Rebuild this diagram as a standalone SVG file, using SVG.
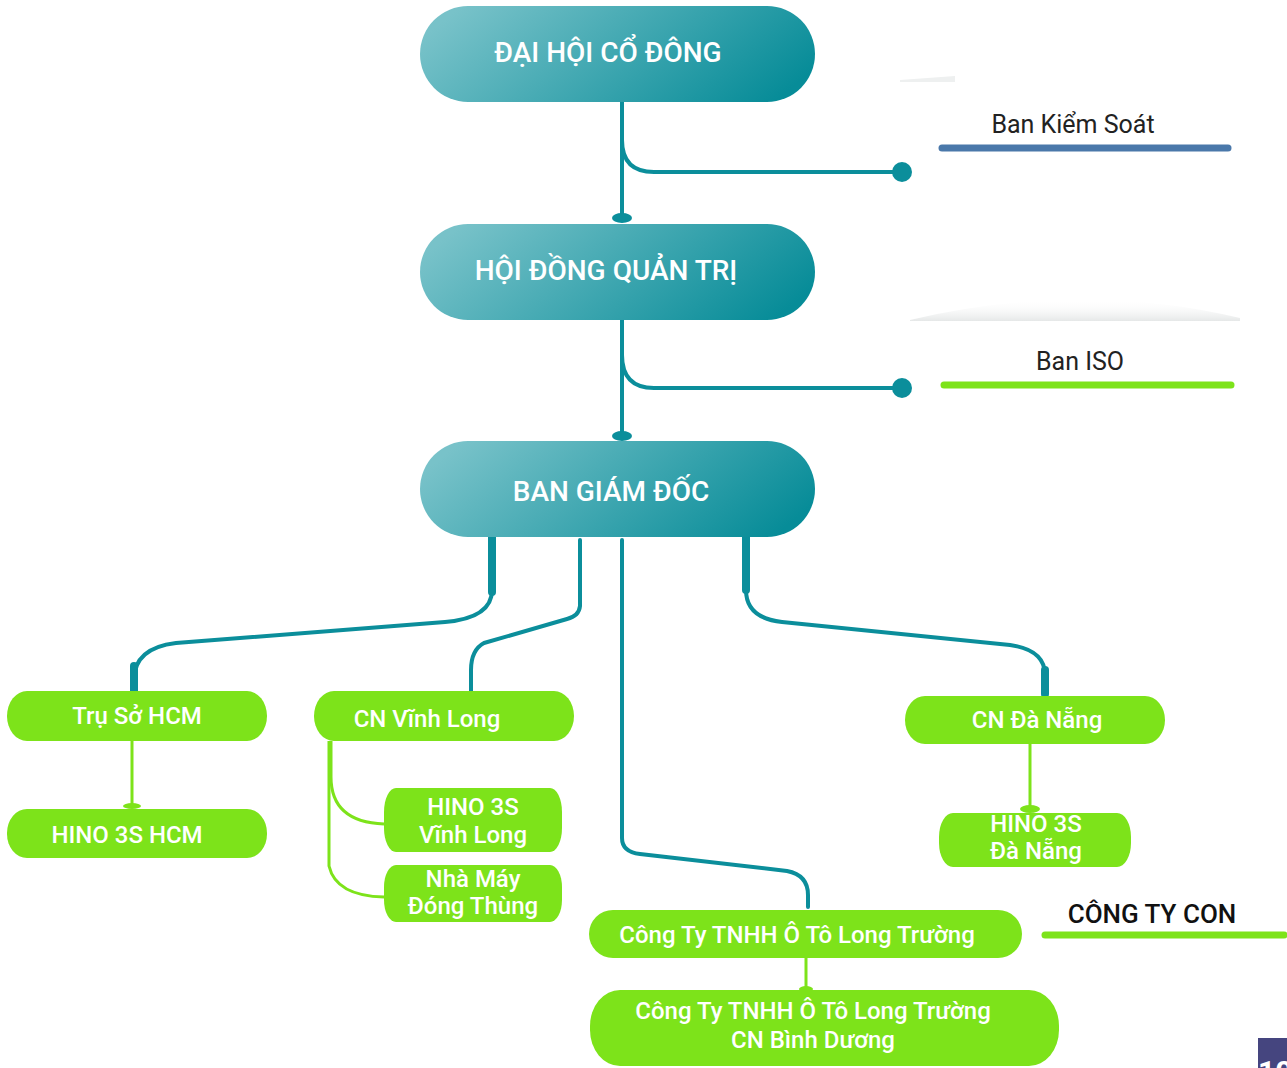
<svg xmlns="http://www.w3.org/2000/svg" width="1287" height="1068" viewBox="0 0 1287 1068">
<defs>
<linearGradient id="tg" x1="0" y1="0.35" x2="1" y2="0.65">
<stop offset="0" stop-color="#78C2C9"/>
<stop offset="1" stop-color="#078C98"/>
</linearGradient>
<linearGradient id="sh" x1="0" y1="0" x2="0" y2="1">
<stop offset="0" stop-color="#ffffff" stop-opacity="0"/>
<stop offset="1" stop-color="#dfe2e2" stop-opacity="0.8"/>
</linearGradient>
</defs>
<style>
.main{fill:url(#tg)}
.mt{fill:#fff;font-family:Roboto,"Liberation Sans",sans-serif;font-size:28px;font-weight:500;text-anchor:middle}
.g{fill:#7DE31A}
.gt{fill:#fff;font-family:Roboto,"Liberation Sans",sans-serif;font-size:24px;font-weight:500;text-anchor:middle}
.lbl{fill:#222;font-family:Roboto,"Liberation Sans",sans-serif;font-size:25px;text-anchor:middle}
.tc{fill:none;stroke:#0B8E9B;stroke-width:4;stroke-linecap:round;stroke-linejoin:round}
.tk{fill:none;stroke:#0B8E9B;stroke-width:8;stroke-linecap:round}
.gc{fill:none;stroke:#7DE31A;stroke-width:3}
.dot{fill:#0B8E9B}
.gd{fill:#7DE31A}
</style>
<path d="M900,80 L955,76 L955,82 L900,82 Z" fill="#eef0f0"/>
<path d="M910,320 Q1080,280 1240,318 L1240,321 L910,321 Z" fill="url(#sh)"/>

<g id="connectors">
<line class="tc" x1="622" y1="102" x2="622" y2="216"/>
<path class="tc" d="M622,140 Q622,172 654,172 H902"/>
<ellipse class="dot" cx="622" cy="218" rx="10" ry="5"/>
<circle class="dot" cx="902" cy="172" r="10"/>
<line class="tc" x1="622" y1="320" x2="622" y2="434"/>
<path class="tc" d="M622,355 Q622,388 654,388 H902"/>
<ellipse class="dot" cx="622" cy="436" rx="10" ry="5"/>
<circle class="dot" cx="902" cy="388" r="10"/>
<path class="tc" d="M492,540 V590 Q492,618 445,622 L176,643 Q134,648 134,680 V692"/>
<path class="tk" d="M492,537 V592"/>
<path class="tk" d="M134,666 V692" stroke-linecap="butt"/>
<path class="tc" d="M580,540 V606 Q579,616 567,619 L484,643 Q471,650 471,670 V692" stroke-width="5"/>
<path class="tc" d="M622,540 V838 Q622,852 640,854 L787,871 Q808,875 808,895 V907"/>
<path class="tc" d="M746,540 V590 Q746,618 782,622 L1010,645 Q1045,650 1045,675 V694"/>
<path class="tk" d="M746,537 V590"/>
<path class="tk" d="M1045,670 V694" stroke-linecap="butt"/>
<line class="gc" x1="132" y1="741" x2="132" y2="805"/>
<ellipse class="gd" cx="132" cy="806" rx="9" ry="3"/>
<path class="gc" d="M331,741 V777 Q331,822 384,824"/>
<path class="gc" d="M329,741 V866 Q336,896 384,897"/>
<line class="gc" x1="1030" y1="744" x2="1030" y2="808"/>
<ellipse class="gd" cx="1030" cy="809" rx="10" ry="4"/>
<line class="gc" x1="806" y1="958" x2="806" y2="988"/>
<ellipse class="gd" cx="806" cy="989" rx="7" ry="3"/>
</g>

<g id="n-daihoi">
<rect class="main" x="420" y="6" width="395" height="96" rx="48"/>
<text class="mt" x="608" y="62">ĐẠI HỘI CỔ ĐÔNG</text>
</g>
<g id="n-hdqt">
<rect class="main" x="420" y="224" width="395" height="96" rx="48"/>
<text class="mt" x="606" y="280">HỘI ĐỒNG QUẢN TRỊ</text>
</g>
<g id="n-bgd">
<rect class="main" x="420" y="441" width="395" height="96" rx="48"/>
<text class="mt" x="611" y="501">BAN GIÁM ĐỐC</text>
</g>

<g id="n-bks">
<text class="lbl" x="1073" y="133">Ban Kiểm Soát</text>
<line x1="942" y1="148" x2="1228" y2="148" stroke="#4A78AA" stroke-width="7" stroke-linecap="round"/>
</g>
<g id="n-iso">
<text class="lbl" x="1080" y="370">Ban ISO</text>
<line x1="944" y1="385" x2="1231" y2="385" stroke="#7DE31A" stroke-width="7" stroke-linecap="round"/>
</g>

<g id="n-truso">
<rect class="g" x="7" y="691" width="260" height="50" rx="20" ry="25"/>
<text class="gt" x="137" y="724">Trụ Sở HCM</text>
</g>
<g id="n-hino-hcm">
<rect class="g" x="7" y="809" width="260" height="49" rx="20" ry="24"/>
<text class="gt" x="127" y="843">HINO 3S HCM</text>
</g>
<g id="n-vinhlong">
<rect class="g" x="314" y="691" width="260" height="50" rx="20" ry="25"/>
<text class="gt" x="427" y="727">CN Vĩnh Long</text>
</g>
<g id="n-hino-vl">
<rect class="g" x="384" y="788" width="178" height="64" rx="12" ry="24"/>
<text class="gt" x="473" y="815">HINO 3S</text>
<text class="gt" x="473" y="843">Vĩnh Long</text>
</g>
<g id="n-nhamay">
<rect class="g" x="384" y="865" width="178" height="57" rx="12" ry="22"/>
<text class="gt" x="473" y="887">Nhà Máy</text>
<text class="gt" x="473" y="914">Đóng Thùng</text>
</g>
<g id="n-danang">
<rect class="g" x="905" y="696" width="260" height="48" rx="20" ry="24"/>
<text class="gt" x="1037" y="728">CN Đà Nẵng</text>
</g>
<g id="n-hino-dn">
<rect class="g" x="939" y="813" width="192" height="54" rx="14" ry="24"/>
<text class="gt" x="1036" y="832">HINO 3S</text>
<text class="gt" x="1036" y="859">Đà Nẵng</text>
</g>
<g id="n-ltr">
<rect class="g" x="589" y="910" width="433" height="48" rx="24" ry="24"/>
<text class="gt" x="797" y="943">Công Ty TNHH Ô Tô Long Trường</text>
</g>
<g id="n-ltr-bd">
<rect class="g" x="590" y="990" width="469" height="76" rx="30" ry="36"/>
<text class="gt" x="813" y="1019">Công Ty TNHH Ô Tô Long Trường</text>
<text class="gt" x="813" y="1048">CN Bình Dương</text>
</g>
<g id="n-congtycon">
<text x="1152" y="923" fill="#111" font-family="Roboto,'Liberation Sans',sans-serif" font-size="26" font-weight="500" text-anchor="middle">CÔNG TY CON</text>
<line x1="1045" y1="935" x2="1284" y2="935" stroke="#7DE31A" stroke-width="7" stroke-linecap="round"/>
</g>
<g id="corner">
<rect x="1258" y="1038" width="29" height="30" fill="#45457F"/>
<text x="1258" y="1082" fill="#fff" font-family="Roboto,'Liberation Sans',sans-serif" font-size="30" font-weight="700">10</text>
</g>
</svg>
